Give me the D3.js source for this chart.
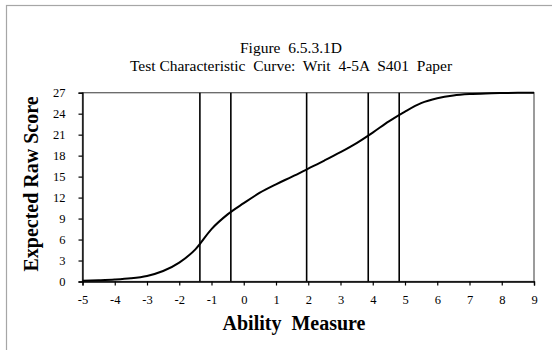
<!DOCTYPE html>
<html><head><meta charset="utf-8">
<script src="https://cdn.jsdelivr.net/npm/d3@7"></script>
<style>html,body{margin:0;padding:0;background:#fff;}svg{display:block;}</style>
</head><body>
<svg id="chart" width="552" height="350"></svg>
<script>
const titleLines = ["Figure  6.5.3.1D", "Test Characteristic  Curve:  Writ  4-5A  S401  Paper"];
const xTitle = "Ability  Measure";
const yTitle = "Expected Raw Score";
const abilities = [-5,-4.5,-4,-3.5,-3,-2.5,-2,-1.5,-1,-0.5,0,0.5,1,1.5,2,2.5,3,3.5,4,4.5,5,5.5,6,6.5,7,7.5,8,8.5,9];
const scores    = [0.1,0.17,0.27,0.45,0.8,1.5,2.7,4.6,7.5,9.6,11.2,12.7,13.9,15.0,16.15,17.3,18.5,19.8,21.3,22.9,24.3,25.5,26.2,26.6,26.8,26.9,26.95,26.98,27.0];
const cutPoints = [-1.36,-0.40,1.95,3.86,4.82];
const xTicks = [-5,-4,-3,-2,-1,0,1,2,3,4,5,6,7,8,9];
const yTicks = [0,3,6,9,12,15,18,21,24,27];

const svg = d3.select("#chart");
const font = "'Liberation Serif','Times New Roman',serif";

svg.append("rect").attr("x",0).attr("y",0).attr("width",552).attr("height",350).attr("fill","#fff");
// outer chart border (top and left visible)
svg.append("rect").attr("x",6.5).attr("y",5.5).attr("width",600).attr("height",400)
  .attr("fill","none").attr("stroke","#a6a6a6").attr("stroke-width",1.2);

const x = d3.scaleLinear().domain([-5,9]).range([82.5,534]);
const y = d3.scaleLinear().domain([0,27]).range([281.5,92.7]);

// plot frame
svg.append("rect").attr("x",x(-5)).attr("y",y(27)).attr("width",x(9)-x(-5)).attr("height",y(0)-y(27))
  .attr("fill","none").attr("stroke","#666").attr("stroke-width",1.3);

// title
svg.append("text").attr("x",291).attr("y",53).attr("text-anchor","middle")
  .attr("font-family",font).attr("font-size",15.5).attr("fill","#000").style("white-space","pre").text(titleLines[0]);
svg.append("text").attr("x",291).attr("y",71).attr("text-anchor","middle")
  .attr("font-family",font).attr("font-size",15.5).attr("fill","#000").style("white-space","pre").text(titleLines[1]);

// axes
const yAxis = d3.axisLeft(y).tickValues(yTicks).tickSize(4).tickPadding(13).tickFormat(d3.format("d"));
const gy = svg.append("g").attr("transform",`translate(${x(-5)},0)`).call(yAxis);
const xAxis = d3.axisBottom(x).tickValues(xTicks).tickSize(4).tickPadding(10).tickFormat(d3.format("d"));
const gx = svg.append("g").attr("transform",`translate(0,${y(0)})`).call(xAxis);
[gx,gy].forEach(g=>{
  g.attr("font-family",font).attr("font-size",12.5);
  g.selectAll("path").attr("stroke","#000").attr("stroke-width",1.3);
  g.selectAll("line").attr("stroke","#000").attr("stroke-width",1.2);
  g.selectAll("text").style("font-family",font).style("font-size","12.5px").attr("fill","#000");
});
gx.selectAll("text").text(d=> d<0 ? "-"+Math.abs(d) : String(d));

// cut lines
svg.append("g").selectAll("line").data(cutPoints).join("line")
  .attr("x1",d=>x(d)).attr("x2",d=>x(d)).attr("y1",y(27)).attr("y2",y(0))
  .attr("stroke","#000").attr("stroke-width",1.6);

// curve
const line = d3.line().x(d=>x(d[0])).y(d=>y(d[1])).curve(d3.curveMonotoneX);
svg.append("path").datum(abilities.map((a,i)=>[a,scores[i]]))
  .attr("d",line).attr("fill","none").attr("stroke","#000").attr("stroke-width",2);

// axis titles
svg.append("text").attr("x",294).attr("y",330).attr("text-anchor","middle")
  .attr("font-family",font).attr("font-size",20).attr("font-weight","bold").style("white-space","pre").text(xTitle);
svg.append("text").attr("transform","translate(38,184) rotate(-90)").attr("text-anchor","middle")
  .attr("font-family",font).attr("font-size",20).attr("font-weight","bold").text(yTitle);
</script>
</body></html>
